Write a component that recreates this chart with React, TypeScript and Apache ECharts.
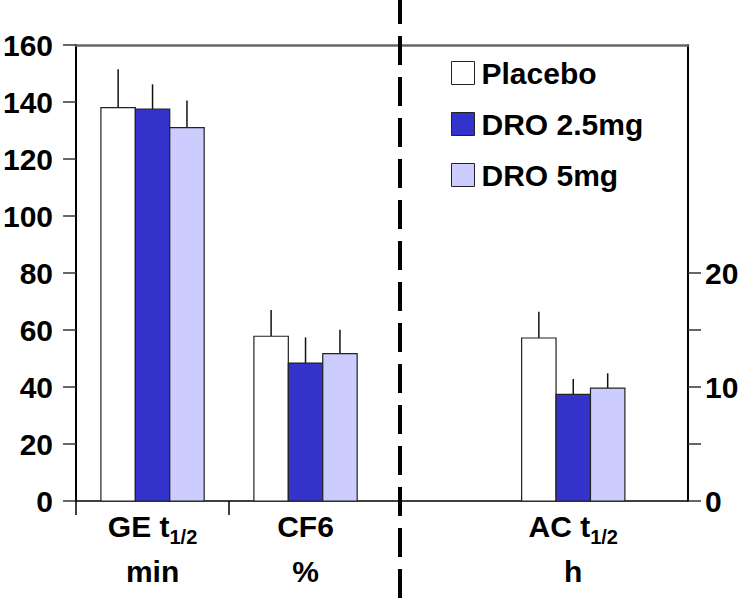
import React, { useEffect, useRef } from "react";
import * as echarts from "echarts";

// ---- data ----
const categoryTitles = ["GE t", "CF6", "AC t"];
const categorySubs = ["1/2", "", "1/2"];
const categoryUnits = ["min", "%", "h"];
const seriesNames = ["Placebo", "DRO 2.5mg", "DRO 5mg"];
// means (GE, CF6 on left axis; AC on right axis)
const placeboMean = [138, 57.8, 14.3];
const dro25Mean = [137.5, 48.4, 9.35];
const dro5Mean = [131, 51.7, 9.9];
// error (upper bar length)
const placeboErr = [13.5, 9.2, 2.3];
const dro25Err = [8.7, 9.0, 1.35];
const dro5Err = [9.5, 8.4, 1.3];
const leftTicks = [0, 20, 40, 60, 80, 100, 120, 140, 160];
const rightTickValues = [0, 5, 10, 15, 20];
const rightLabelValues = [0, 10, 20];

// ---- layout (not data) ----
const groupPos = [0.5, 1.5, 3.25];
const groupAxis = [0, 0, 1];
const barW = 0.225;
const colors = ["#ffffff", "#3333cc", "#ccccff"];
const FONT = "'Liberation Sans', Arial, sans-serif";

export default function App() {
  const ref = useRef<HTMLDivElement>(null);
  useEffect(() => {
    document.body.style.margin = "0";
    if (!ref.current) return;
    const chart = echarts.init(ref.current, undefined, { renderer: "svg" });
    const means = [placeboMean, dro25Mean, dro5Mean];
    const errs = [placeboErr, dro25Err, dro5Err];

    const series: any[] = [];
    means.forEach((m, k) => {
      [0, 1].forEach((axisIdx) => {
        const data = m
          .map((v, i) => ({ i, v }))
          .filter((d) => groupAxis[d.i] === axisIdx)
          .map((d) => [groupPos[d.i], d.v, errs[k][d.i]]);
        series.push({
          type: "custom",
          name: seriesNames[k],
          xAxisIndex: 0,
          yAxisIndex: axisIdx,
          itemStyle: { color: colors[k], borderColor: "#222", borderWidth: 1 },
          data,
          renderItem: (params: any, api: any) => {
            const x = api.value(0);
            const v = api.value(1);
            const e = api.value(2);
            const p1 = api.coord([x + (k - 1.5) * barW, v]);
            const p2 = api.coord([x + (k - 0.5) * barW, 0]);
            const xc = x + (k - 1) * barW;
            const e1 = api.coord([xc, v]);
            const e2 = api.coord([xc, v + e]);
            return {
              type: "group",
              children: [
                {
                  type: "line",
                  shape: { x1: e1[0], y1: e1[1], x2: e2[0], y2: e2[1] },
                  style: { stroke: "#111", lineWidth: 1.5 },
                },
                {
                  type: "rect",
                  shape: { x: p1[0], y: p1[1], width: p2[0] - p1[0], height: p2[1] - p1[1] },
                  style: { fill: colors[k], stroke: "#222", lineWidth: 1.2 },
                },
              ],
            };
          },
        });
      });
    });

    chart.setOption({
      animation: false,
      grid: { left: 76, right: 55, top: 45, bottom: 104 },
      legend: {
        orient: "vertical",
        left: 451,
        top: 58,
        padding: 0,
        icon: "rect",
        itemWidth: 23,
        itemHeight: 23,
        itemGap: 21,
        data: seriesNames.map((n, k) => ({
          name: n,
          itemStyle: { color: colors[k], borderColor: "#222", borderWidth: 1 },
        })),
        textStyle: {
          fontFamily: FONT,
          fontWeight: "bold",
          fontSize: 30,
          lineHeight: 30,
          color: "#000",
          padding: [0, 0, 0, 2],
        },
        selectedMode: false,
      },
      xAxis: [
        {
          type: "value",
          min: 0,
          max: 4,
          position: "bottom",
          splitLine: { show: false },
          axisLine: { onZero: false, lineStyle: { color: "#000", width: 1.5 } },
          axisTick: {
            customValues: [0, 1],
            length: 14,
            lineStyle: { color: "#000", width: 1.5 },
          },
          axisLabel: {
            customValues: groupPos,
            margin: 3,
            formatter: (val: number) => {
              const i = groupPos.findIndex((p) => Math.abs(p - val) < 1e-6);
              if (i < 0) return "";
              const sub = categorySubs[i] ? `{sub|${categorySubs[i]}}` : "";
              return `{main|${categoryTitles[i]}}${sub}\n{main|${categoryUnits[i]}}`;
            },
            rich: {
              main: {
                fontFamily: FONT,
                fontWeight: "bold",
                fontSize: 30,
                lineHeight: 45,
                color: "#000",
              },
              sub: {
                fontFamily: FONT,
                fontWeight: "bold",
                fontSize: 20,
                lineHeight: 45,
                color: "#000",
                padding: [20, 0, 0, 0],
              },
            },
          },
        },
        {
          type: "value",
          min: 0,
          max: 4,
          position: "top",
          splitLine: { show: false },
          axisLine: { onZero: false, lineStyle: { color: "#666", width: 2.5 } },
          axisTick: { show: false },
          axisLabel: { show: false },
        },
      ],
      yAxis: [
        {
          type: "value",
          min: leftTicks[0],
          max: leftTicks[leftTicks.length - 1],
          interval: 20,
          position: "left",
          splitLine: { show: false },
          axisLine: { show: true, onZero: false, lineStyle: { color: "#000", width: 2 } },
          axisTick: { show: true, length: 13, lineStyle: { color: "#333", width: 1.5 } },
          axisLabel: {
            margin: 23,
            fontFamily: FONT,
            fontWeight: "bold",
            fontSize: 30,
            color: "#000",
          },
        },
        {
          type: "value",
          min: 0,
          max: 40,
          interval: 5,
          position: "right",
          splitLine: { show: false },
          axisLine: { show: true, onZero: false, lineStyle: { color: "#000", width: 2 } },
          axisTick: {
            show: true,
            length: 13,
            customValues: rightTickValues,
            lineStyle: { color: "#333", width: 1.5 },
          },
          axisLabel: {
            customValues: rightLabelValues,
            margin: 17,
            fontFamily: FONT,
            fontWeight: "bold",
            fontSize: 30,
            color: "#000",
          },
        },
      ],
      graphic: [
        {
          type: "line",
          z: 100,
          shape: { x1: 400, y1: 0, x2: 400, y2: 605 },
          style: { stroke: "#000", lineWidth: 4, lineDash: [29, 12], lineDashOffset: 5 },
        },
      ],
      series,
    });
    return () => chart.dispose();
  }, []);
  return <div ref={ref} style={{ width: 743, height: 605 }} />;
}
